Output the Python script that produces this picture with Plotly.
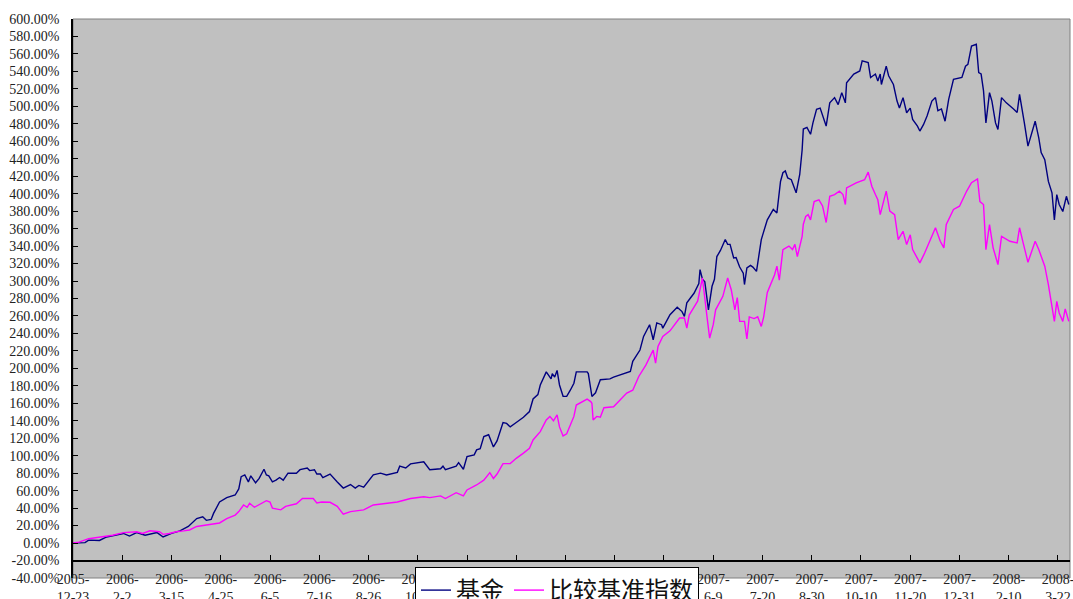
import plotly.graph_objects as go

fund_dates = [
    "2005-12-23", "2006-01-02", "2006-01-05", "2006-01-14", "2006-01-20", "2006-02-03", "2006-02-08",
    "2006-02-14", "2006-02-21", "2006-03-03", "2006-03-08", "2006-03-15", "2006-03-22", "2006-03-29",
    "2006-04-05", "2006-04-10", "2006-04-13", "2006-04-17", "2006-04-19", "2006-04-24", "2006-04-30",
    "2006-05-07", "2006-05-10", "2006-05-12", "2006-05-15", "2006-05-18", "2006-05-20", "2006-05-24",
    "2006-05-27", "2006-05-31", "2006-06-02", "2006-06-04", "2006-06-07", "2006-06-10", "2006-06-13",
    "2006-06-16", "2006-06-20", "2006-06-27", "2006-06-30", "2006-07-06", "2006-07-08", "2006-07-12",
    "2006-07-14", "2006-07-17", "2006-07-19", "2006-07-25", "2006-07-31", "2006-08-05", "2006-08-11",
    "2006-08-15", "2006-08-18", "2006-08-22", "2006-08-30", "2006-09-05", "2006-09-10", "2006-09-19",
    "2006-09-21", "2006-09-26", "2006-09-30", "2006-10-11", "2006-10-16", "2006-10-25", "2006-10-27",
    "2006-10-29", "2006-11-07", "2006-11-09", "2006-11-13", "2006-11-16", "2006-11-22", "2006-11-24",
    "2006-11-27", "2006-11-30", "2006-12-04", "2006-12-08", "2006-12-11", "2006-12-16", "2006-12-19",
    "2006-12-22", "2006-12-27", "2007-01-02", "2007-01-07", "2007-01-10", "2007-01-14", "2007-01-16",
    "2007-01-21", "2007-01-23", "2007-01-25", "2007-01-26", "2007-01-28", "2007-01-30", "2007-02-01",
    "2007-02-04", "2007-02-07", "2007-02-10", "2007-02-13", "2007-02-15", "2007-02-24", "2007-02-25",
    "2007-02-28", "2007-03-03", "2007-03-07", "2007-03-15", "2007-03-18", "2007-04-01", "2007-04-03",
    "2007-04-09", "2007-04-12", "2007-04-17", "2007-04-20", "2007-04-23", "2007-04-27", "2007-04-28",
    "2007-05-04", "2007-05-10", "2007-05-14", "2007-05-16", "2007-05-18", "2007-05-21", "2007-05-24",
    "2007-05-28", "2007-05-29", "2007-05-31", "2007-06-02", "2007-06-05", "2007-06-08", "2007-06-10",
    "2007-06-12", "2007-06-15", "2007-06-19", "2007-06-21", "2007-06-23", "2007-06-26", "2007-06-28",
    "2007-07-01", "2007-07-04", "2007-07-05", "2007-07-07", "2007-07-10", "2007-07-12", "2007-07-15",
    "2007-07-19", "2007-07-24", "2007-07-29", "2007-08-01", "2007-08-04", "2007-08-06", "2007-08-08",
    "2007-08-10", "2007-08-13", "2007-08-17", "2007-08-20", "2007-08-22", "2007-08-23", "2007-08-26",
    "2007-08-29", "2007-08-31", "2007-09-03", "2007-09-06", "2007-09-08", "2007-09-11", "2007-09-14",
    "2007-09-18", "2007-09-21", "2007-09-24", "2007-09-27", "2007-09-28", "2007-10-04", "2007-10-09",
    "2007-10-11", "2007-10-16", "2007-10-18", "2007-10-22", "2007-10-24", "2007-10-26", "2007-10-27",
    "2007-10-31", "2007-11-02", "2007-11-06", "2007-11-09", "2007-11-11", "2007-11-14", "2007-11-17",
    "2007-11-20", "2007-11-22", "2007-11-26", "2007-11-28", "2007-12-01", "2007-12-04", "2007-12-08",
    "2007-12-11", "2007-12-13", "2007-12-16", "2007-12-19", "2007-12-22", "2007-12-26", "2008-01-02",
    "2008-01-05", "2008-01-07", "2008-01-10", "2008-01-14", "2008-01-16", "2008-01-18", "2008-01-20",
    "2008-01-22", "2008-01-25", "2008-01-27", "2008-01-30", "2008-02-01", "2008-02-04", "2008-02-08",
    "2008-02-14", "2008-02-17", "2008-02-19", "2008-02-21", "2008-02-23", "2008-02-26", "2008-02-29",
    "2008-03-03", "2008-03-06", "2008-03-08", "2008-03-11", "2008-03-14", "2008-03-17", "2008-03-19",
    "2008-03-21", "2008-03-23", "2008-03-26", "2008-03-28", "2008-03-29", "2008-03-31",
]
fund_values = [
    0, 0.5, 3.4, 3, 7, 11, 8,
    12, 9, 12, 7, 11, 14, 19,
    28, 30, 26, 27, 34, 47, 52,
    55, 62, 76, 78, 70, 77, 69,
    74, 84.5, 78, 77, 70, 72, 75,
    72, 80, 80, 84, 86, 83, 84,
    79, 79, 75, 79, 70, 63, 67,
    63, 66, 64, 78, 80, 78, 81,
    88, 86, 90.6, 93, 84, 85, 88,
    84, 88, 92, 84.5, 99, 101, 106.7,
    108, 122, 124, 110, 117, 138, 137,
    133, 138, 144, 150.6, 165, 170, 181,
    196, 192, 188, 194, 190, 197.6, 181,
    168, 168, 175, 183, 196, 196, 194,
    167.8, 172, 187, 188, 190, 196.5, 208,
    221, 236.6, 250, 232.8, 252, 250, 246,
    261.5, 270, 265, 259.5, 275, 280.6, 286,
    297, 313, 302, 299, 267, 294, 302,
    328, 335, 347.5, 342, 342, 326.5, 327,
    316, 309, 296, 315, 318, 316, 311,
    347.5, 370, 382, 378, 414, 424, 426,
    418, 416, 401, 422, 450, 474, 476,
    468, 481, 496.6, 498, 490, 477.4, 504,
    510, 502, 515.7, 504, 527, 537, 540.5,
    552, 550, 533, 537, 529, 537, 525,
    546, 535, 525, 506, 498, 510, 492.7,
    498, 485, 477.4, 471.7, 479, 489, 506,
    510, 495, 497, 483, 508, 531, 533,
    546, 548, 569, 571, 538.7, 537, 518,
    481, 515.7, 506, 481, 473.6, 510, 504,
    497, 493, 513.8, 495, 481, 454.5, 470,
    483, 464, 447, 439, 414, 401, 370,
    399, 387.6, 379.6, 393, 397, 387.6,
]

bench_dates = [
    "2005-12-23", "2005-12-28", "2006-01-05", "2006-01-14", "2006-01-20", "2006-01-25", "2006-02-03",
    "2006-02-14", "2006-02-19", "2006-02-25", "2006-03-05", "2006-03-08", "2006-03-13", "2006-03-19",
    "2006-03-25", "2006-03-30", "2006-04-05", "2006-04-10", "2006-04-16", "2006-04-24", "2006-04-30",
    "2006-05-07", "2006-05-10", "2006-05-14", "2006-05-17", "2006-05-19", "2006-05-23", "2006-05-29",
    "2006-06-02", "2006-06-05", "2006-06-07", "2006-06-14", "2006-06-18", "2006-06-27", "2006-07-02",
    "2006-07-11", "2006-07-14", "2006-07-18", "2006-07-25", "2006-07-31", "2006-08-05", "2006-08-11",
    "2006-08-16", "2006-08-22", "2006-08-30", "2006-09-07", "2006-09-19", "2006-09-30", "2006-10-11",
    "2006-10-16", "2006-10-25", "2006-10-29", "2006-11-07", "2006-11-13", "2006-11-16", "2006-11-24",
    "2006-11-30", "2006-12-05", "2006-12-08", "2006-12-11", "2006-12-16", "2006-12-22", "2006-12-27",
    "2007-01-02", "2007-01-07", "2007-01-10", "2007-01-16", "2007-01-21", "2007-01-24", "2007-01-27",
    "2007-01-30", "2007-02-01", "2007-02-04", "2007-02-07", "2007-02-10", "2007-02-13", "2007-02-15",
    "2007-02-24", "2007-02-27", "2007-02-28", "2007-03-01", "2007-03-04", "2007-03-07", "2007-03-10",
    "2007-03-18", "2007-03-21", "2007-03-29", "2007-04-03", "2007-04-08", "2007-04-14", "2007-04-20",
    "2007-04-22", "2007-04-24", "2007-04-28", "2007-05-04", "2007-05-12", "2007-05-16", "2007-05-18",
    "2007-05-20", "2007-05-24", "2007-05-27", "2007-05-31", "2007-06-02", "2007-06-04", "2007-06-06",
    "2007-06-09", "2007-06-11", "2007-06-17", "2007-06-21", "2007-06-24", "2007-06-27", "2007-06-29",
    "2007-07-01", "2007-07-05", "2007-07-07", "2007-07-09", "2007-07-13", "2007-07-16", "2007-07-19",
    "2007-07-21", "2007-07-24", "2007-07-30", "2007-08-01", "2007-08-03", "2007-08-06", "2007-08-11",
    "2007-08-14", "2007-08-16", "2007-08-18", "2007-08-20", "2007-08-22", "2007-08-23", "2007-08-25",
    "2007-08-27", "2007-08-29", "2007-09-01", "2007-09-05", "2007-09-08", "2007-09-11", "2007-09-14",
    "2007-09-18", "2007-09-22", "2007-09-25", "2007-09-27", "2007-09-28", "2007-10-06", "2007-10-13",
    "2007-10-16", "2007-10-19", "2007-10-22", "2007-10-24", "2007-10-26", "2007-10-28", "2007-10-31",
    "2007-11-03", "2007-11-07", "2007-11-10", "2007-11-14", "2007-11-17", "2007-11-20", "2007-11-22",
    "2007-11-28", "2007-12-02", "2007-12-05", "2007-12-11", "2007-12-15", "2007-12-18", "2007-12-20",
    "2007-12-26", "2007-12-31", "2008-01-06", "2008-01-10", "2008-01-15", "2008-01-17", "2008-01-20",
    "2008-01-22", "2008-01-25", "2008-01-28", "2008-02-01", "2008-02-04", "2008-02-11", "2008-02-17",
    "2008-02-19", "2008-02-22", "2008-02-26", "2008-03-03", "2008-03-06", "2008-03-11", "2008-03-14",
    "2008-03-19", "2008-03-21", "2008-03-23", "2008-03-26", "2008-03-28", "2008-03-31",
]
bench_values = [
    0, 1, 5, 7, 7.5, 9, 12,
    13, 11, 14, 13, 10, 11, 13,
    14, 15, 19, 20, 22, 23, 28,
    32, 36, 43.6, 41, 45.5, 41, 45,
    48.5, 47, 40, 38, 42, 45, 51,
    51, 46, 47, 46.7, 42, 33, 36,
    37, 38, 43.6, 45, 47, 51, 53,
    52, 54, 51, 57.7, 54, 60.8, 66.5,
    72, 80.6, 74, 79, 91, 91, 97,
    103, 108.6, 118, 127.6, 141, 145, 140,
    146.8, 133, 122.7, 125, 134, 145, 158,
    164.8, 162, 160, 141, 145, 144, 155,
    156, 160, 171.7, 175, 190.7, 204, 221,
    206, 225, 236.6, 243, 257.7, 257.7, 246,
    261, 270, 277, 303.5, 277, 257, 234.7,
    250, 267, 282.5, 303.5, 290, 267, 281,
    253.8, 253.8, 233.6, 259, 257, 259, 248,
    259, 287, 307, 317, 301, 336, 340,
    336, 342, 328, 340, 351, 365, 374,
    376, 370, 391, 393, 386, 367, 397,
    399, 403, 399, 387.6, 406.7, 412.5, 416,
    424.7, 408.6, 399, 393, 376, 385.7, 403,
    380, 376, 347.5, 357, 341.7, 353, 336,
    320.8, 332, 341.7, 360.9, 345.5, 338, 364.7,
    382, 385.7, 403, 412.5, 417, 391, 387.6,
    336, 364.7, 338, 318.8, 351, 345.5, 343.7,
    361, 343.7, 321.5, 345.5, 336, 317, 296,
    253.8, 276.7, 263.4, 253.8, 268, 253.8,
]

tick_dates = [
    "2005-12-23", "2006-02-02", "2006-03-15", "2006-04-25", "2006-06-05", "2006-07-16", "2006-08-26",
    "2006-10-06", "2006-11-16", "2006-12-27", "2007-02-06", "2007-03-19", "2007-04-29", "2007-06-09",
    "2007-07-20", "2007-08-30", "2007-10-10", "2007-11-20", "2007-12-31", "2008-02-10", "2008-03-22",
]
tick_labels = [
    "2005-<br>12-23", "2006-<br>2-2", "2006-<br>3-15", "2006-<br>4-25", "2006-<br>6-5", "2006-<br>7-16",
    "2006-<br>8-26", "2006-<br>10-6", "2006-<br>11-16", "2006-<br>12-27", "2007-<br>2-6", "2007-<br>3-19",
    "2007-<br>4-29", "2007-<br>6-9", "2007-<br>7-20", "2007-<br>8-30", "2007-<br>10-10", "2007-<br>11-20",
    "2007-<br>12-31", "2008-<br>2-10", "2008-<br>3-22",
]
y_ticks = list(range(-40, 601, 20))
y_labels = [f"{v:.2f}%" for v in y_ticks]
y_min, y_max = -40, 600
x_cross = -20

fig = go.Figure()
fig.add_trace(go.Scatter(x=fund_dates, y=fund_values, mode="lines", name="基金",
                         line=dict(color="#000080", width=1.4)))
fig.add_trace(go.Scatter(x=bench_dates, y=bench_values, mode="lines", name="比较基准指数",
                         line=dict(color="#FF00FF", width=1.4)))

tick_font = dict(family="Liberation Serif, DejaVu Serif, serif", size=14, color="#222222")

fig.update_layout(
    width=1073, height=599,
    margin=dict(l=73, r=3, t=19, b=21, autoexpand=False),
    paper_bgcolor="white",
    plot_bgcolor="#C0C0C0",
    showlegend=True,
    legend=dict(
        orientation="h",
        x=(415 - 73) / 997, y=(578 - 567) / 559,
        xanchor="left", yanchor="top",
        bgcolor="white", bordercolor="black", borderwidth=1,
        font=dict(family="Noto Sans CJK SC", size=24, color="#111111"),
        itemwidth=30,
        tracegroupgap=0,
    ),
    xaxis=dict(
        type="date",
        range=["2005-12-23", "2008-04-01"],
        tickmode="array", tickvals=tick_dates, ticktext=tick_labels,
        anchor="free", position=(x_cross - y_min) / (y_max - y_min),
        showline=True, linecolor="black", linewidth=1.5,
        ticks="inside", ticklen=5, tickcolor="black",
        ticklabelstandoff=6, ticklabeloverflow="allow",
        automargin=False,
        showgrid=False, zeroline=False,
        tickfont=tick_font,
    ),
    yaxis=dict(
        range=[y_min, y_max],
        tickmode="array", tickvals=y_ticks, ticktext=y_labels,
        showline=True, linecolor="black", linewidth=1.5,
        ticks="inside", ticklen=5, tickcolor="black",
        ticklabelstandoff=9,
        automargin=False,
        showgrid=False, zeroline=False,
        tickfont=tick_font,
    ),
    shapes=[dict(type="rect", xref="paper", yref="paper", x0=0, x1=1, y0=0, y1=1,
                 line=dict(color="#808080", width=1), layer="below")],
)

fig.write_html(
    "out.html",
    config={"displayModeBar": False},
    post_script="document.body.style.margin='0';document.body.style.overflow='hidden';",
)
